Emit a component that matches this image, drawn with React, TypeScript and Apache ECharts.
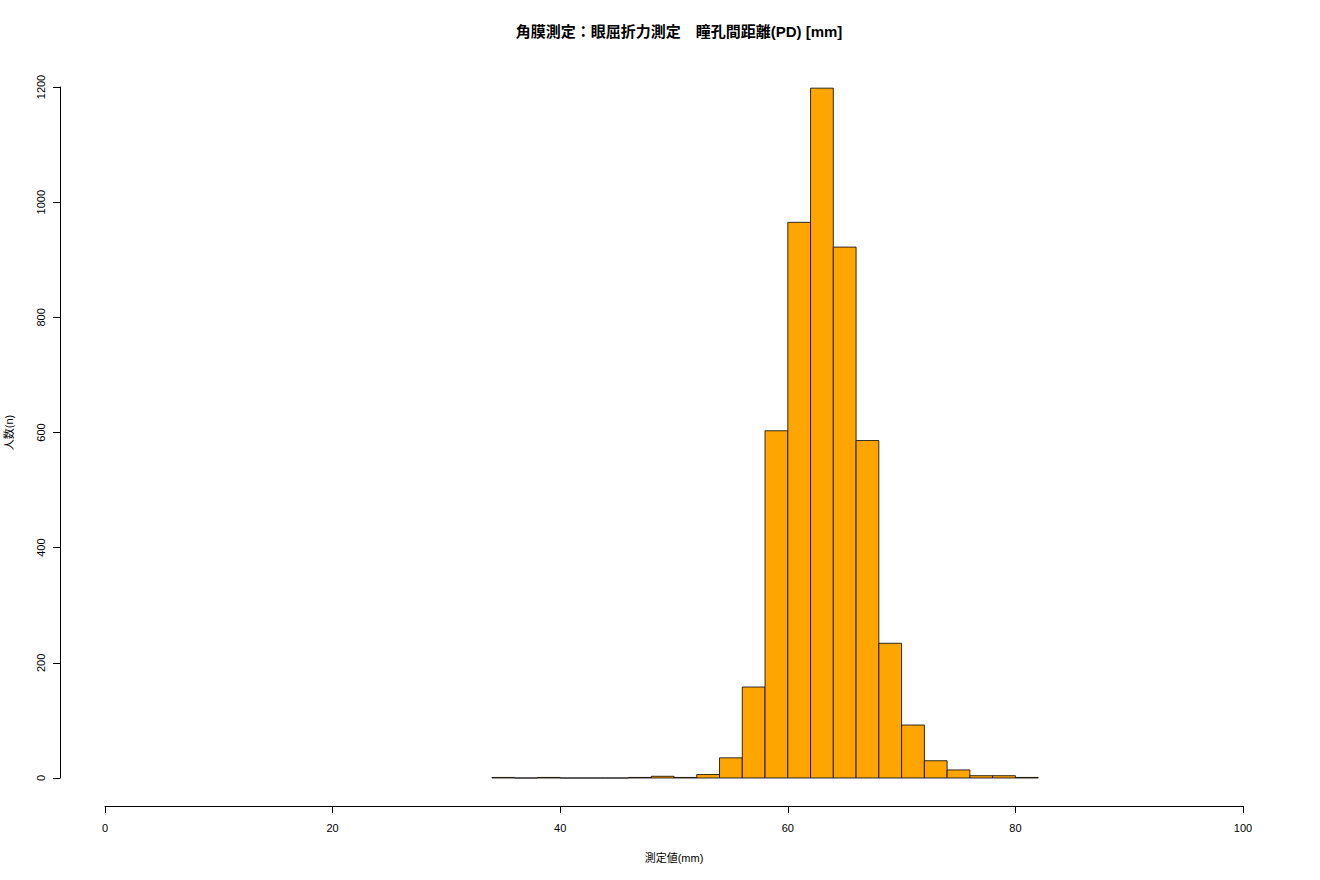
import React, { useEffect, useRef } from "react";
import * as echarts from "echarts";

const binStarts = [34, 36, 38, 40, 42, 44, 46, 48, 50, 52, 54, 56, 58, 60, 62, 64, 66, 68, 70, 72, 74, 76, 78, 80];
const binWidth = 2;
const counts = [1, 0, 1, 0, 0, 0, 1, 3, 1, 6, 35, 158, 603, 965, 1198, 922, 586, 234, 92, 30, 14, 4, 4, 1];
const xTicks = [0, 20, 40, 60, 80, 100];
const yTicks = [0, 200, 400, 600, 800, 1000, 1200];

const titleText = "角膜測定：眼屈折力測定　瞳孔間距離(PD) [mm]";
const xName = "測定値(mm)";
const yName = "人数(n)";

const FONT = "'Liberation Sans', 'Noto Sans CJK JP', sans-serif";

export default function App() {
  const ref = useRef<HTMLDivElement>(null);
  useEffect(() => {
    if (!ref.current) return;
    const chart = echarts.init(ref.current, undefined, { renderer: "svg" });
    const data = binStarts.map((s, i) => [s, s + binWidth, counts[i]]);
    chart.setOption({
      animation: false,
      backgroundColor: "#ffffff",
      textStyle: { fontFamily: FONT },
      title: {
        text: titleText,
        left: 674,
        textAlign: "center",
        top: 19,
        textStyle: { fontSize: 15, fontWeight: "bold", color: "#000", fontFamily: FONT },
      },
      grid: {
        left: 105,
        right: 77,
        top: 87,
        bottom: 102,
        containLabel: false,
        outerBoundsMode: "none",
      },
      xAxis: {
        type: "value",
        min: xTicks[0],
        max: xTicks[xTicks.length - 1],
        interval: 20,
        offset: 28,
        name: xName,
        nameLocation: "middle",
        nameGap: 46,
        nameTextStyle: { fontSize: 11, color: "#000", fontFamily: FONT },
        axisLine: { show: true, onZero: false, lineStyle: { color: "#000", width: 1 } },
        axisTick: { show: true, length: 7, inside: false, lineStyle: { color: "#000" } },
        axisLabel: { fontSize: 11, color: "#000", margin: 16, fontFamily: FONT },
        splitLine: { show: false },
      },
      yAxis: {
        type: "value",
        min: yTicks[0],
        max: yTicks[yTicks.length - 1],
        interval: 200,
        offset: 45,
        name: yName,
        nameLocation: "middle",
        nameGap: 46,
        nameRotate: 90,
        nameTextStyle: { fontSize: 11, color: "#000", fontFamily: FONT },
        axisLine: { show: true, onZero: false, lineStyle: { color: "#000", width: 1 } },
        axisTick: { show: true, length: 7, lineStyle: { color: "#000" } },
        axisLabel: {
          fontSize: 11,
          color: "#000",
          rotate: 90,
          margin: 14,
          fontFamily: FONT,
          formatter: (v: number) => String(v),
        },
        splitLine: { show: false },
      },
      series: [
        {
          type: "custom",
          data,
          encode: { x: [0, 1], y: 2 },
          renderItem: (params: any, api: any) => {
            const p0 = api.coord([api.value(0), 0]);
            const p1 = api.coord([api.value(1), api.value(2)]);
            return {
              type: "rect",
              shape: { x: p0[0], y: p1[1], width: p1[0] - p0[0], height: p0[1] - p1[1] },
              style: { fill: "#FFA500", stroke: "#000", lineWidth: 0.8 },
            };
          },
        },
      ],
    });
    return () => chart.dispose();
  }, []);
  return (
    <div
      ref={ref}
      style={{ position: "fixed", left: 0, top: 0, width: 1320, height: 880, background: "#fff" }}
    />
  );
}
